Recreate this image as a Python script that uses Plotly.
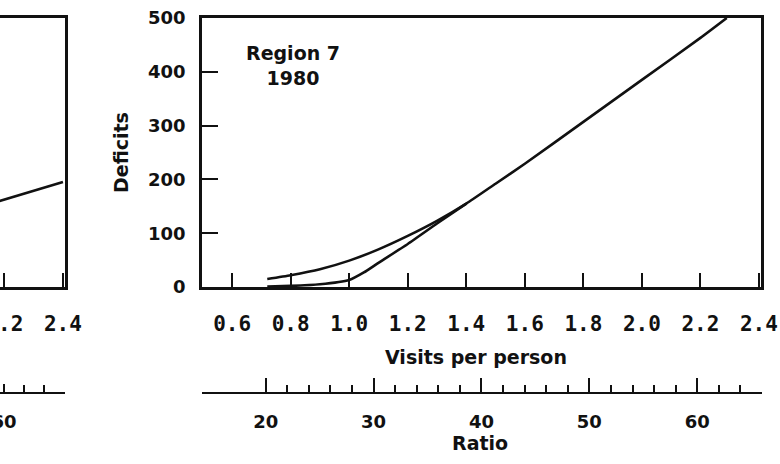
import plotly.graph_objects as go

# ---- data -------------------------------------------------------------
# Region 7, 1980: deficits against visits per person (two estimates)
visits_upper = [0.72, 0.8, 0.9, 1.0, 1.1, 1.2, 1.3, 1.4, 1.5, 1.6, 1.8, 2.0, 2.2, 2.29]
deficit_upper = [15, 22, 33, 49, 70, 95, 123, 155, 192, 229, 307, 385, 463, 500]
visits_lower = [0.72, 0.8, 0.9, 1.0, 1.05, 1.1, 1.2, 1.3, 1.4]
deficit_lower = [1, 2, 5, 13, 27, 45, 80, 118, 155]

# neighbouring panel (only its right edge is in view)
visits_prev = [2.0, 2.4]
deficit_prev = [130, 195]

visit_ticks = [0.6, 0.8, 1.0, 1.2, 1.4, 1.6, 1.8, 2.0, 2.2, 2.4]
deficit_ticks = [0, 100, 200, 300, 400, 500]
ratio_ticks = [20, 30, 40, 50, 60]
ratio_minor = [22, 24, 26, 28, 32, 34, 36, 38, 42, 44, 46, 48, 52, 54, 56, 58, 62, 64, 66]
prev_visit_ticks = [2.2, 2.4]
prev_ratio_ticks = [60]
prev_ratio_minor = [62, 64, 66]

# ---- geometry (pixels on a 780 x 464 page) ----------------------------
W, H = 780, 464
def px(x):
    return x / W
def py(y):
    return (H - y) / H

INK = "#111111"
SANS = "DejaVu Sans"
MONO = "DejaVu Sans Mono"

y_dom = [py(287), py(18)]
main_x_dom = [px(202), px(761)]
prev_x_dom = [0, px(65)]
ratio_y_dom = [py(392), py(390)]

fig = go.Figure()

line_style = dict(color=INK, width=2.6, shape="spline", smoothing=0.5)
fig.add_trace(go.Scatter(x=visits_upper, y=deficit_upper, mode="lines",
                         line=line_style, xaxis="x", yaxis="y",
                         hoverinfo="skip", cliponaxis=True))
fig.add_trace(go.Scatter(x=visits_lower, y=deficit_lower, mode="lines",
                         line=line_style, xaxis="x", yaxis="y",
                         hoverinfo="skip", cliponaxis=True))
fig.add_trace(go.Scatter(x=visits_prev, y=deficit_prev, mode="lines",
                         line=dict(color=INK, width=2.6), xaxis="x2", yaxis="y2",
                         hoverinfo="skip", cliponaxis=True))
# carriers for the two ratio scales
fig.add_trace(go.Scatter(x=ratio_ticks, y=[0] * len(ratio_ticks), mode="markers",
                         marker=dict(opacity=0), xaxis="x3", yaxis="y3",
                         hoverinfo="skip"))
fig.add_trace(go.Scatter(x=prev_ratio_ticks, y=[0], mode="markers",
                         marker=dict(opacity=0), xaxis="x4", yaxis="y4",
                         hoverinfo="skip"))

axis_common = dict(showgrid=False, zeroline=False, showline=True, automargin=False,
                   linecolor=INK, tickcolor=INK, fixedrange=True)

fig.update_layout(
    width=W, height=H, autosize=False,
    margin=dict(l=0, r=0, t=0, b=0, pad=0),
    paper_bgcolor="white", plot_bgcolor="white",
    showlegend=False,
    xaxis=dict(**axis_common, domain=main_x_dom, range=[0.497, 2.407], anchor="y",
               linewidth=2.8, mirror=True, ticks="inside", ticklen=14, tickwidth=2.4,
               tickvals=visit_ticks, ticktext=[f"{v:.1f}" for v in visit_ticks],
               tickfont=dict(family=MONO, size=21, color=INK, weight="bold"),
               ticklabelstandoff=16, ticklabeloverflow="allow"),
    yaxis=dict(**axis_common, domain=y_dom, range=[0, 500], anchor="x",
               linewidth=2.8, mirror=True, ticks="inside", ticklen=16, tickwidth=2.4,
               tickvals=deficit_ticks, ticktext=[str(v) for v in deficit_ticks],
               tickfont=dict(family=SANS, size=18, color=INK, weight="bold"),
               ticklabelstandoff=10),
    xaxis2=dict(**axis_common, domain=prev_x_dom, range=[2.185, 2.407], anchor="y2",
                linewidth=2.8, mirror=True, ticks="inside", ticklen=14, tickwidth=2.4,
                tickvals=prev_visit_ticks, ticktext=[f"{v:.1f}" for v in prev_visit_ticks],
                tickfont=dict(family=MONO, size=21, color=INK, weight="bold"),
                ticklabelstandoff=16, ticklabeloverflow="allow"),
    yaxis2=dict(**axis_common, domain=y_dom, range=[0, 500], anchor="x2", side="right",
                linewidth=2.8, ticks="", showticklabels=False),
    xaxis3=dict(**axis_common, domain=[px(202), px(762)], range=[14.1, 66.0], anchor="y3",
                linewidth=2.2, ticks="inside", ticklen=14, tickwidth=2,
                tickvals=ratio_ticks, ticktext=[str(v) for v in ratio_ticks],
                tickfont=dict(family=SANS, size=18, color=INK, weight="bold"),
                ticklabelstandoff=12, ticklabeloverflow="allow",
                minor=dict(tickvals=ratio_minor, ticks="inside", ticklen=7,
                           tickwidth=2, tickcolor=INK, showgrid=False)),
    yaxis3=dict(domain=ratio_y_dom, range=[0, 1], anchor="x3", visible=False,
                fixedrange=True, automargin=False),
    xaxis4=dict(**axis_common, domain=prev_x_dom, range=[59.6, 66.1], anchor="y4",
                linewidth=2.2, ticks="inside", ticklen=8, tickwidth=2,
                tickvals=prev_ratio_ticks, ticktext=[str(v) for v in prev_ratio_ticks],
                tickfont=dict(family=SANS, size=18, color=INK, weight="bold"),
                ticklabelstandoff=12, ticklabeloverflow="allow",
                minor=dict(tickvals=prev_ratio_minor, ticks="inside", ticklen=7,
                           tickwidth=2, tickcolor=INK, showgrid=False)),
    yaxis4=dict(domain=ratio_y_dom, range=[0, 1], anchor="x4", visible=False,
                fixedrange=True, automargin=False),
)

title_font = dict(family=SANS, size=19, color=INK, weight="bold")
fig.add_annotation(text="Region 7<br>1980", x=px(293), y=py(65), xref="paper", yref="paper",
                   showarrow=False, font=title_font, align="center",
                   xanchor="center", yanchor="middle")
fig.add_annotation(text="Deficits", x=px(121), y=py(153), xref="paper", yref="paper",
                   showarrow=False, font=title_font, textangle=-90,
                   xanchor="center", yanchor="middle")
fig.add_annotation(text="Visits per person", x=px(476), y=py(357), xref="paper", yref="paper",
                   showarrow=False, font=title_font, xanchor="center", yanchor="middle")
fig.add_annotation(text="Ratio", x=px(480), y=py(443), xref="paper", yref="paper",
                   showarrow=False, font=title_font, xanchor="center", yanchor="middle")

fig.write_html("out.html")
